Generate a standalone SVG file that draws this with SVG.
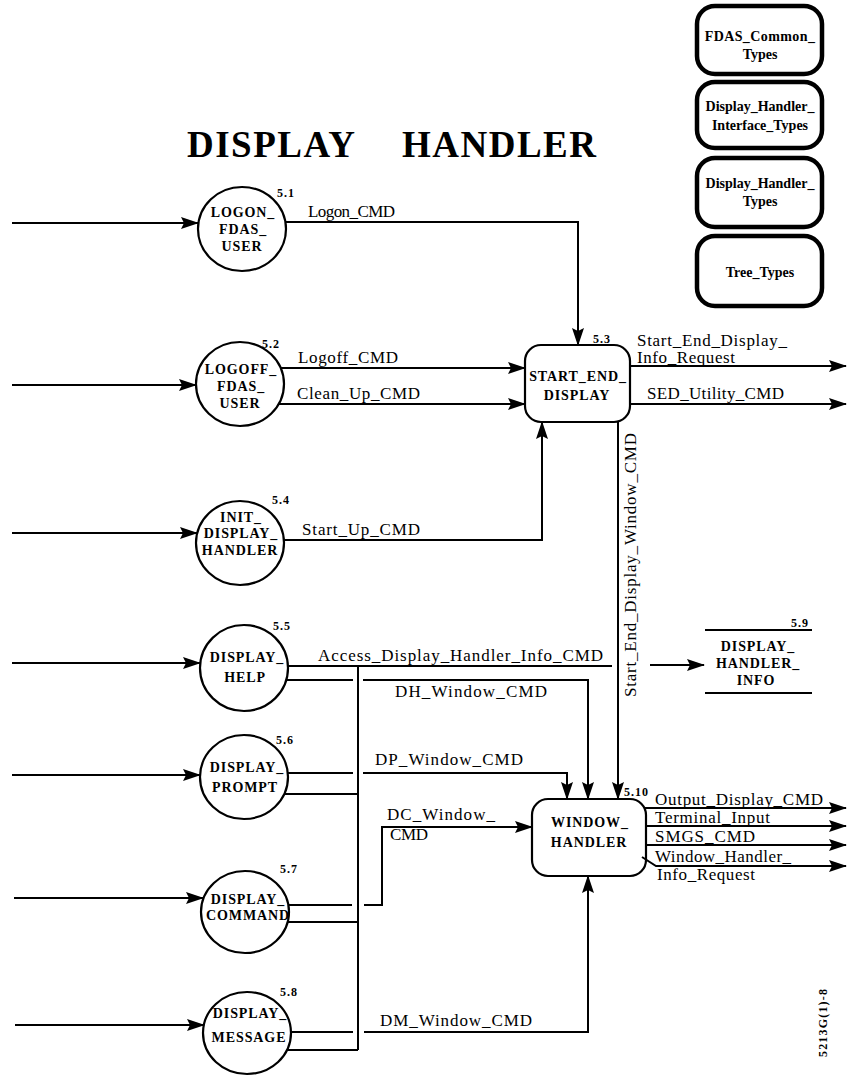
<svg xmlns="http://www.w3.org/2000/svg" width="847" height="1076" viewBox="0 0 847 1076">
<style>
.ln{fill:none;stroke:#000;stroke-width:2}
.nd{fill:#fff;stroke:#000;stroke-width:2.2}
.tb{fill:#fff;stroke:#000;stroke-width:4.5}
.nt{font-weight:bold;font-size:14px;text-anchor:middle;letter-spacing:0.9px}
.num{font-weight:bold;font-size:12px;letter-spacing:1px}
.lb{font-size:17px}
.tt{font-weight:bold;font-size:14px;text-anchor:middle}
.title{font-weight:bold;font-size:37px;letter-spacing:1.5px}
</style>
<defs>
<marker id="ah" viewBox="0 0 18 12" refX="17" refY="6" markerWidth="18" markerHeight="12" markerUnits="userSpaceOnUse" orient="auto"><path d="M0,0 L18,6 L0,12 L3,6 z" fill="#000" stroke="none"/></marker>
</defs>
<rect width="847" height="1076" fill="#fff"/>
<g font-family="'Liberation Serif', 'Times New Roman', serif">
<text class="title" x="187" y="157">DISPLAY</text>
<text class="title" x="402" y="157">HANDLER</text>

<g id="tb1"><rect class="tb" x="697" y="6" width="125" height="68" rx="18"/><text class="tt" x="760" y="41" letter-spacing="0.4">FDAS_Common_</text><text class="tt" x="760" y="59">Types</text></g>
<g id="tb2"><rect class="tb" x="697" y="82" width="125" height="66" rx="18"/><text class="tt" x="760" y="111">Display_Handler_</text><text class="tt" x="760" y="130">Interface_Types</text></g>
<g id="tb3"><rect class="tb" x="697" y="158" width="125" height="69" rx="18"/><text class="tt" x="760" y="188">Display_Handler_</text><text class="tt" x="760" y="206">Types</text></g>
<g id="tb4"><rect class="tb" x="697" y="236" width="125" height="70" rx="18"/><text class="tt" x="760" y="277">Tree_Types</text></g>

<g id="n5_1"><ellipse class="nd" cx="242" cy="229" rx="44" ry="42"/><text class="nt" x="243" y="217">LOGON_</text><text class="nt" x="243" y="234">FDAS_</text><text class="nt" x="242" y="251">USER</text><text class="num" x="277" y="197">5.1</text></g>
<g id="n5_2"><ellipse class="nd" cx="240" cy="384" rx="44" ry="42"/><text class="nt" x="241" y="374">LOGOFF_</text><text class="nt" x="241" y="391">FDAS_</text><text class="nt" x="240" y="408">USER</text><text class="num" x="262" y="348">5.2</text></g>
<g id="n5_3"><rect class="nd" x="525" y="345" width="105" height="77" rx="16"/><text class="nt" x="578" y="381">START_END_</text><text class="nt" x="577" y="400">DISPLAY</text><text class="num" x="593" y="343">5.3</text></g>
<g id="n5_4"><ellipse class="nd" cx="240" cy="543" rx="44" ry="42"/><text class="nt" x="241" y="522">INIT_</text><text class="nt" x="241" y="538">DISPLAY_</text><text class="nt" x="240" y="555">HANDLER</text><text class="num" x="272" y="504">5.4</text></g>
<g id="n5_5"><ellipse class="nd" cx="244" cy="668" rx="44" ry="43"/><text class="nt" x="247" y="662">DISPLAY_</text><text class="nt" x="245" y="682">HELP</text><text class="num" x="273" y="630">5.5</text></g>
<g id="n5_6"><ellipse class="nd" cx="244" cy="777" rx="44" ry="42"/><text class="nt" x="247" y="772">DISPLAY_</text><text class="nt" x="245" y="792">PROMPT</text><text class="num" x="276" y="744">5.6</text></g>
<g id="n5_7"><ellipse class="nd" cx="245" cy="912" rx="44" ry="41"/><text class="nt" x="248" y="904">DISPLAY_</text><text class="nt" x="248" y="920">COMMAND</text><text class="num" x="280" y="873">5.7</text></g>
<g id="n5_8"><ellipse class="nd" cx="247" cy="1033" rx="44" ry="41"/><text class="nt" x="250" y="1018">DISPLAY_</text><text class="nt" x="249" y="1042">MESSAGE</text><text class="num" x="280" y="996">5.8</text></g>
<g id="n5_9"><path class="ln" d="M705,630 H812 M705,693 H812" stroke-width="2.4"/><text class="nt" x="758" y="651">DISPLAY_</text><text class="nt" x="758" y="668">HANDLER_</text><text class="nt" x="756" y="685">INFO</text><text class="num" x="791" y="627">5.9</text></g>
<g id="n5_10"><rect class="nd" x="532" y="799" width="114" height="77" rx="16"/><text class="nt" x="590" y="827">WINDOW_</text><text class="nt" x="589" y="847">HANDLER</text><text class="num" x="624" y="796">5.10</text></g>

<g id="connectors">
<path class="ln" marker-end="url(#ah)" d="M12,223 H198"/>
<path class="ln" marker-end="url(#ah)" d="M12,385 H196"/>
<path class="ln" marker-end="url(#ah)" d="M12,533 H197"/>
<path class="ln" marker-end="url(#ah)" d="M12,663 H200"/>
<path class="ln" marker-end="url(#ah)" d="M12,775 H200"/>
<path class="ln" marker-end="url(#ah)" d="M14,898 H203"/>
<path class="ln" marker-end="url(#ah)" d="M15,1025 H204"/>
<path class="ln" marker-end="url(#ah)" d="M285,222 H578 V345"/>
<path class="ln" marker-end="url(#ah)" d="M281,368 H525"/>
<path class="ln" marker-end="url(#ah)" d="M279,404 H525"/>
<path class="ln" marker-end="url(#ah)" d="M284,540 H542 V422"/>
<path class="ln" marker-end="url(#ah)" d="M630,366 H846"/>
<path class="ln" marker-end="url(#ah)" d="M630,404 H846"/>
<path class="ln" marker-end="url(#ah)" d="M618,421 V799"/>
<path class="ln" d="M288,666 H612"/>
<path class="ln" marker-end="url(#ah)" d="M650,665 H704"/>
<path class="ln" d="M358,666 V1050"/>
<path class="ln" marker-end="url(#ah)" d="M286,680 H353 M363,680 H588 V799"/>
<path class="ln" marker-end="url(#ah)" d="M288,773 H353 M363,773 H567 V799"/>
<path class="ln" d="M284,794 H358"/>
<path class="ln" marker-end="url(#ah)" d="M288,905 H352 M364,905 H382 V827 H532"/>
<path class="ln" d="M288,922 H358"/>
<path class="ln" marker-end="url(#ah)" d="M291,1032 H353 M364,1032 H588 V876"/>
<path class="ln" d="M287,1050 H358"/>
<path class="ln" marker-end="url(#ah)" d="M644,808 H846"/>
<path class="ln" marker-end="url(#ah)" d="M646,826 H846"/>
<path class="ln" marker-end="url(#ah)" d="M646,845 H846"/>
<path class="ln" marker-end="url(#ah)" d="M642,857 L656,866 H846"/>

<text class="lb" x="308" y="217" textLength="87">Logon_CMD</text>
<text class="lb" x="298" y="363" textLength="100">Logoff_CMD</text>
<text class="lb" x="297" y="399" textLength="123">Clean_Up_CMD</text>
<text class="lb" x="637" y="346" font-size="16" textLength="150">Start_End_Display_</text>
<text class="lb" x="637" y="363" font-size="16" textLength="98">Info_Request</text>
<text class="lb" x="647" y="399" textLength="137">SED_Utility_CMD</text>
<text class="lb" x="302" y="535" textLength="118">Start_Up_CMD</text>
<text class="lb" x="636" y="697" transform="rotate(-90 636 697)" textLength="264">Start_End_Display_Window_CMD</text>
<text class="lb" x="318" y="661" textLength="285">Access_Display_Handler_Info_CMD</text>
<text class="lb" x="395" y="697" textLength="152">DH_Window_CMD</text>
<text class="lb" x="375" y="765" textLength="148">DP_Window_CMD</text>
<text class="lb" x="387" y="820" textLength="108">DC_Window_</text>
<text class="lb" x="390" y="840" textLength="38">CMD</text>
<text class="lb" x="380" y="1026" textLength="152">DM_Window_CMD</text>
<text class="lb" x="655" y="805" textLength="168">Output_Display_CMD</text>
<text class="lb" x="655" y="823" textLength="115">Terminal_Input</text>
<text class="lb" x="655" y="842" textLength="100">SMGS_CMD</text>
<text class="lb" x="655" y="862" textLength="136">Window_Handler_</text>
<text class="lb" x="657" y="880" textLength="98">Info_Request</text>
</g>

<text class="num" x="827" y="1057" transform="rotate(-90 827 1057)" textLength="69" font-size="13">5213G(1)-8</text>
</g>
</svg>
